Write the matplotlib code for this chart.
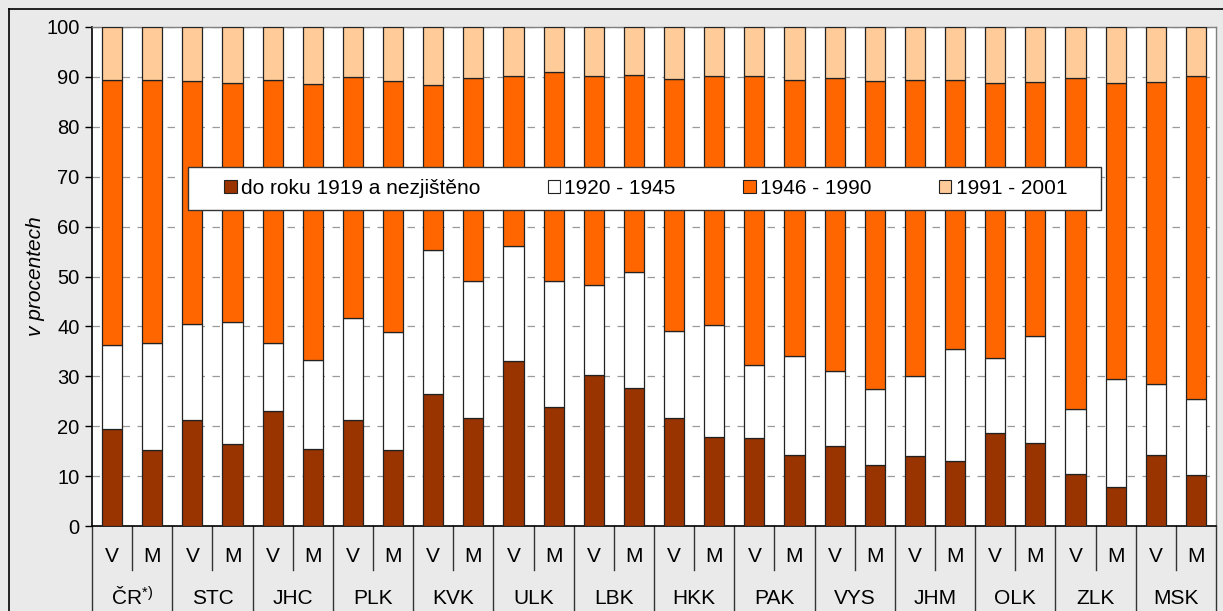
import numpy as np
import matplotlib.pyplot as plt
from matplotlib.patches import Patch, Rectangle
from matplotlib.lines import Line2D

plt.rcParams['font.family'] = ['Liberation Sans', 'DejaVu Sans']
plt.rcParams['mathtext.fontset'] = 'custom'
plt.rcParams['mathtext.rm'] = 'Liberation Sans'
plt.rcParams['mathtext.it'] = 'Liberation Sans:italic'

# kraje (regions), each with V and M bars
regions = ['ČR$^{*)}$', 'STC', 'JHC', 'PLK', 'KVK', 'ULK', 'LBK',
           'HKK', 'PAK', 'VYS', 'JHM', 'OLK', 'ZLK', 'MSK']
sub_labels = ['V', 'M']

# cumulative tops (V, M pairs per region)
top_1919 = [19.4, 15.3, 21.3, 16.5, 23.0, 15.5, 21.3, 15.2, 26.4, 21.7,
            33.0, 23.8, 30.3, 27.7, 21.7, 17.8, 17.6, 14.3, 16.1, 12.2,
            14.1, 13.1, 18.7, 16.7, 10.4, 7.9, 14.3, 10.2]
top_1945 = [36.3, 36.6, 40.5, 40.8, 36.6, 33.3, 41.6, 38.8, 55.3, 49.1,
            56.1, 49.0, 48.3, 50.9, 39.1, 40.3, 32.3, 34.1, 31.0, 27.5,
            30.1, 35.4, 33.7, 38.0, 23.5, 29.4, 28.5, 25.4]
top_1990 = [89.4, 89.4, 89.1, 88.7, 89.3, 88.6, 90.0, 89.1, 88.4, 89.7,
            90.2, 90.9, 90.1, 90.4, 89.5, 90.2, 90.1, 89.3, 89.8, 89.1,
            89.4, 89.3, 88.7, 88.9, 89.8, 88.8, 88.9, 90.2]

s1 = np.array(top_1919)
s2 = np.array(top_1945) - s1
s3 = np.array(top_1990) - np.array(top_1945)
s4 = 100 - np.array(top_1990)

series = [s1, s2, s3, s4]
names = ['do roku 1919 a nezjištěno', '1920 - 1945', '1946 - 1990', '1991 - 2001']
colors = ['#993300', '#FFFFFF', '#FF6600', '#FFCC99']

W, H = 1223, 611
fig = plt.figure(figsize=(W / 100, H / 100), dpi=100, facecolor='#EAEAEA')
ax = fig.add_axes([92 / W, 1 - 526 / H, (1216 - 92) / W, (526 - 27) / H])
ax.set_facecolor('white')

x = np.arange(len(s1))
bottom = np.zeros(len(s1))
for vals, col in zip(series, colors):
    ax.bar(x, vals, width=0.5, bottom=bottom, color=col,
           edgecolor='#222222', linewidth=0.9, zorder=3)
    bottom += vals

fs = 15
ax.set_xlim(-0.5, len(s1) - 0.5)
ax.set_ylim(0, 100)
ax.set_yticks(np.arange(0, 101, 10))
ax.tick_params(axis='y', labelsize=14.5, length=5, width=1, direction='out', pad=4)
ax.set_xticks([])
ax.yaxis.grid(True, linestyle=(0, (6, 6)), color='#9a9a9a', linewidth=0.9, zorder=0)
ax.set_ylabel('v procentech', fontsize=fs, style='italic', labelpad=1)

for s in ['left', 'bottom']:
    ax.spines[s].set_color('black')
    ax.spines[s].set_linewidth(1.2)
for s in ['top', 'right']:
    ax.spines[s].set_color('#808080')
    ax.spines[s].set_linewidth(1)

# category table below the axis
tr = ax.get_xaxis_transform()
y_bot = -85 / 499
y_mid = -44 / 499
for i in range(len(s1) + 1):
    xb = i - 0.5
    end = y_bot if i % 2 == 0 else y_mid
    ax.add_line(Line2D([xb, xb], [0, end], transform=tr, color='#333333',
                       linewidth=1, clip_on=False))
for i in range(len(s1)):
    ax.text(i, -31 / 499, sub_labels[i % 2], transform=tr, ha='center',
            va='center', fontsize=fs)
for j, name in enumerate(regions):
    ax.text(2 * j + 0.5, -72 / 499, name, transform=tr, ha='center',
            va='center', fontsize=fs)

# legend box drawn separately, entries spread inside it
fig.add_artist(Rectangle((188 / W, 1 - 210 / H), (1101 - 188) / W, 43 / H,
                         transform=fig.transFigure, facecolor='white',
                         edgecolor='#333333', linewidth=1, zorder=4))
handles = [Patch(facecolor=c, edgecolor='#222222', linewidth=0.8) for c in colors]
leg = fig.legend(handles, names, ncol=4, mode='expand', fontsize=fs,
                 bbox_to_anchor=(224 / W, 1 - 210 / H, (1067 - 224) / W, 43 / H),
                 loc='center', frameon=False, handlelength=0.6, handleheight=0.6,
                 handletextpad=0.2, borderpad=0, borderaxespad=0)
leg.set_zorder(5)

# outer chart border (top and left)
fig.add_artist(Line2D([9 / W, 9 / W], [0, 1 - 9 / H], transform=fig.transFigure,
                      color='black', linewidth=1.2))
fig.add_artist(Line2D([9 / W, 1], [1 - 9 / H, 1 - 9 / H], transform=fig.transFigure,
                      color='black', linewidth=1.2))

fig.savefig('out.png', dpi=100, facecolor=fig.get_facecolor())
